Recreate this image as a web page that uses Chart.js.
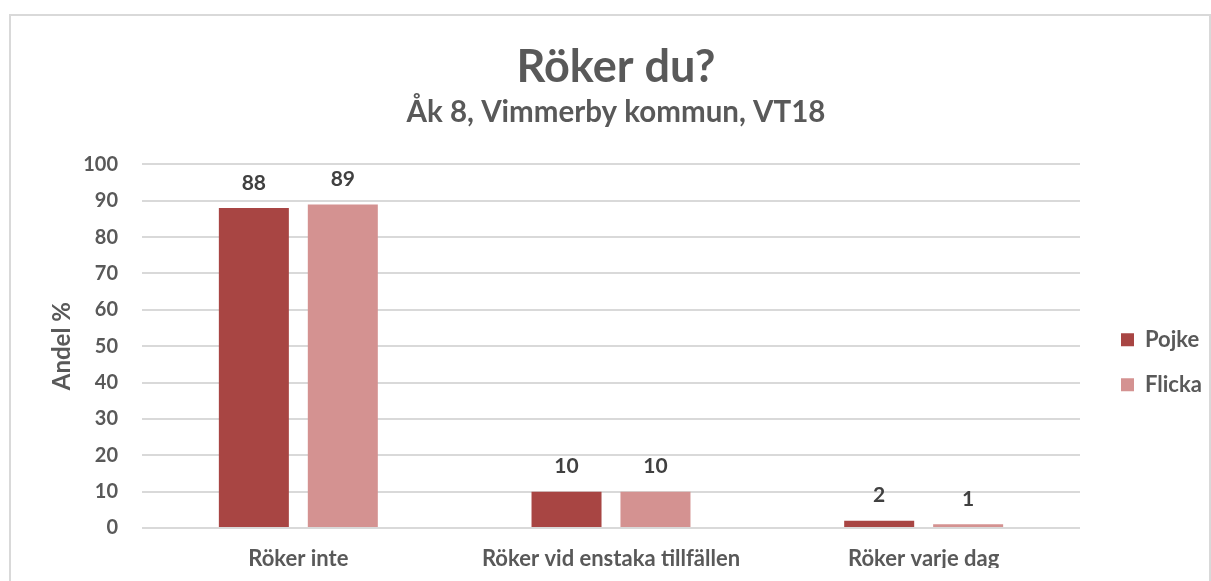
<!DOCTYPE html>
<html>
<head>
<meta charset="utf-8">
<script src="https://cdn.jsdelivr.net/npm/chart.js@4/dist/chart.umd.min.js"></script>
<style>
  html, body { margin: 0; padding: 0; background: #ffffff; }
  #wrap { position: relative; width: 1211px; height: 581px; }
</style>
</head>
<body>
<div id="wrap"><canvas id="c" width="1211" height="581"></canvas></div>
<script>
const categories = ['Röker inte', 'Röker vid enstaka tillfällen', 'Röker varje dag'];
const seriesNames = ['Pojke', 'Flicka'];
const pojke = [88, 10, 2];
const flicka = [89, 10, 1];
const yTicks = [0, 10, 20, 30, 40, 50, 60, 70, 80, 90, 100];
const titleText = 'Röker du?';
const subtitleText = 'Åk 8, Vimmerby kommun, VT18';
const yAxisTitle = 'Andel %';

const FONT = 'Lato, "Open Sans", sans-serif';
const TEXT = '#595959';

const frame = {
  id: 'frame',
  beforeDraw(chart) {
    const ctx = chart.ctx;
    ctx.save();
    ctx.fillStyle = '#ffffff';
    ctx.fillRect(0, 0, chart.width, chart.height);
    ctx.strokeStyle = '#D9D9D9';
    ctx.lineWidth = 2;
    ctx.strokeRect(10, 15, 1200, 700);
    ctx.restore();
  }
};

const valueLabels = {
  id: 'valueLabels',
  afterDatasetsDraw(chart) {
    const ctx = chart.ctx;
    ctx.save();
    ctx.font = 'bold 21px ' + FONT;
    ctx.fillStyle = '#404040';
    ctx.textAlign = 'center';
    ctx.textBaseline = 'middle';
    chart.data.datasets.forEach((ds, i) => {
      const meta = chart.getDatasetMeta(i);
      meta.data.forEach((el, j) => {
        ctx.fillText(String(ds.data[j]), el.x, el.y - 25);
      });
    });
    ctx.restore();
  }
};

new Chart(document.getElementById('c'), {
  type: 'bar',
  data: {
    labels: categories,
    datasets: [
      { label: seriesNames[0], data: pojke, backgroundColor: '#A84543', categoryPercentage: 0.569, barPercentage: 0.787 },
      { label: seriesNames[1], data: flicka, backgroundColor: '#D49291', categoryPercentage: 0.569, barPercentage: 0.787 }
    ]
  },
  options: {
    responsive: false,
    animation: false,
    devicePixelRatio: 1,
    layout: { padding: { left: 21, right: 0, top: 20, bottom: 13 } },
    plugins: {
      title: {
        display: true, text: titleText, color: TEXT,
        font: { family: FONT, size: 45, weight: 'bold', lineHeight: 1.2 },
        padding: { top: 20, bottom: 0 }
      },
      subtitle: {
        display: true, text: subtitleText, color: TEXT,
        font: { family: FONT, size: 29.5, weight: 'bold', lineHeight: 1.2 },
        padding: { top: 1, bottom: 34 }
      },
      legend: {
        position: 'right',
        fullSize: false,
        maxWidth: 113,
        title: { display: true, text: '', font: { size: 10, lineHeight: 1.2 }, padding: { top: 20, bottom: 0 } },
        labels: {
          color: TEXT,
          font: { family: FONT, size: 22, weight: 'bold' },
          boxWidth: 13, boxHeight: 13, padding: 23
        }
      },
      tooltip: { enabled: false }
    },
    scales: {
      x: {
        grid: { display: false },
        border: { display: false },
        ticks: { color: TEXT, font: { family: FONT, size: 22, weight: 'bold' }, padding: 10 },
        afterFit(scale) { scale.height = 40; }
      },
      y: {
        min: 0, max: 100,
        afterBuildTicks(scale) { scale.ticks = yTicks.map(v => ({ value: v })); },
        grid: { color: '#D9D9D9', lineWidth: 2, drawTicks: false },
        border: { display: false },
        ticks: { color: TEXT, font: { family: FONT, size: 20, weight: 'bold' }, padding: 24 },
        title: { display: true, text: yAxisTitle, color: TEXT, font: { family: FONT, size: 24, weight: 'bold', lineHeight: 1.2 }, padding: { top: 27, bottom: 10 } },
        afterFit(scale) { scale.width = 121; }
      },
      spacer: {
        position: 'right', display: true,
        grid: { display: false }, border: { display: false },
        ticks: { display: false },
        afterFit(scale) { scale.width = 18; }
      }
    }
  },
  plugins: [frame, valueLabels]
});
</script>
</body>
</html>
